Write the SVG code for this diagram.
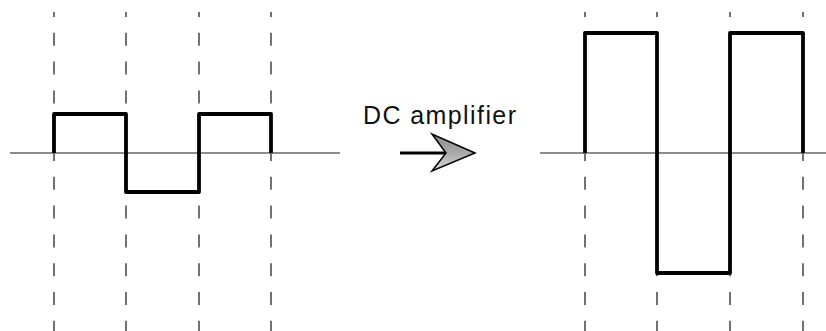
<svg xmlns="http://www.w3.org/2000/svg" width="826" height="331" viewBox="0 0 826 331">
<style>
.grid{stroke:#444;stroke-width:1.5;stroke-dasharray:13 15.8;stroke-dashoffset:8;fill:none}
.axis{stroke:#666;stroke-width:1.5;fill:none}
.wave{stroke:#000;stroke-width:3.8;fill:none;stroke-linejoin:round}
.label{font-family:"Liberation Sans",Arial,sans-serif;font-size:25px;fill:#111}
</style>
<defs>
<linearGradient id="ag" x1="0" y1="0" x2="0" y2="1">
<stop offset="0" stop-color="#8a8a8a"/>
<stop offset="0.5" stop-color="#a8a8a8"/>
<stop offset="1" stop-color="#d8d8d8"/>
</linearGradient>
</defs>
<g id="input-signal">
<line class="grid" x1="54" y1="12" x2="54" y2="331"/>
<line class="grid" x1="126" y1="12" x2="126" y2="331"/>
<line class="grid" x1="199" y1="12" x2="199" y2="331"/>
<line class="grid" x1="271" y1="12" x2="271" y2="331"/>
<line class="axis" x1="10" y1="153" x2="340" y2="153"/>
<path class="wave" d="M54,153 V114 H126 V192 H199 V114 H271 V153"/>
</g>
<g id="output-signal">
<line class="grid" x1="585" y1="12" x2="585" y2="331"/>
<line class="grid" x1="657" y1="12" x2="657" y2="331"/>
<line class="grid" x1="730" y1="12" x2="730" y2="331"/>
<line class="grid" x1="803" y1="12" x2="803" y2="331"/>
<line class="axis" x1="540" y1="153" x2="826" y2="153"/>
<path class="wave" d="M585,153 V33 H657 V273 H730 V33 H803 V153"/>
</g>
<g id="connectors">
<line x1="400" y1="153" x2="447" y2="153" stroke="#000" stroke-width="3"/>
<polygon points="475,153 432,134 446,153 432,171" fill="url(#ag)" stroke="#000" stroke-width="1.5" stroke-linejoin="miter"/>
<text class="label" x="363" y="124" textLength="153" lengthAdjust="spacing">DC amplifier</text>
</g>
</svg>
